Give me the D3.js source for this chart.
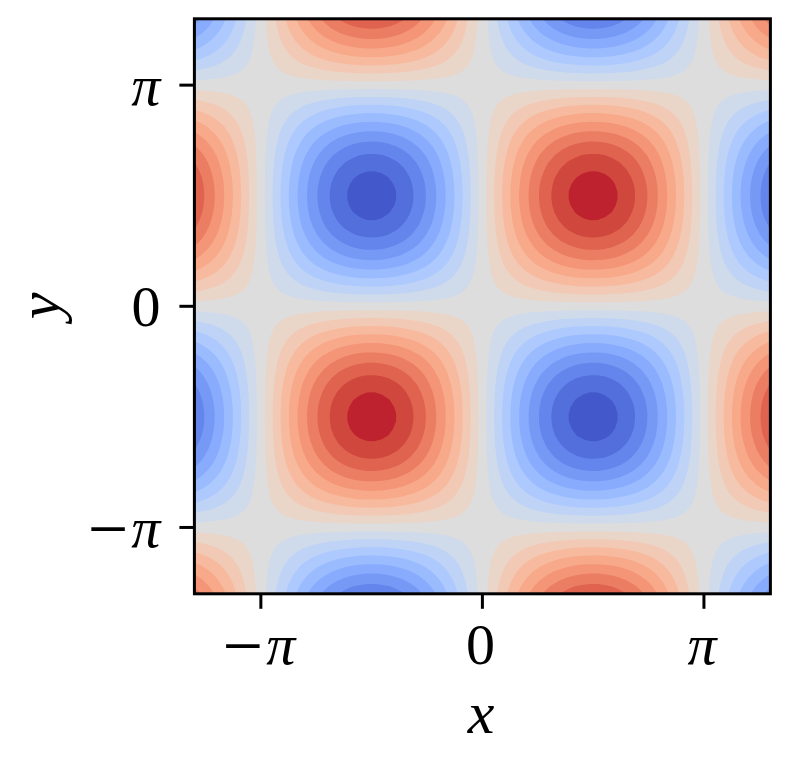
<!DOCTYPE html>
<html><head><meta charset="utf-8">
<script src="https://cdn.jsdelivr.net/npm/d3@7"></script>
<style>html,body{margin:0;padding:0;background:#fff}svg{display:block}</style>
</head><body><svg id="c" width="788" height="761"></svg>
<script>
// Wave profile read along one axis, 81 samples from the left edge to the right edge.
const waveSamples = [0.809,0.745,0.673,0.5941,0.509,0.4187,0.3239,0.2258,0.1253,0.0236,-0.0785,-0.1797,-0.279,-0.3754,-0.4679,-0.5556,-0.6374,-0.7127,-0.7804,-0.8406,-0.891,-0.9326,-0.9646,-0.9864,-0.998,-0.9992,-0.99,-0.9705,-0.9409,-0.9014,-0.8526,-0.7951,-0.729,-0.6554,-0.575,-0.4886,-0.3971,-0.3015,-0.2028,-0.1019,0,0.1019,0.2028,0.3015,0.3971,0.4886,0.575,0.6554,0.729,0.7951,0.8526,0.9014,0.9409,0.9705,0.99,0.9992,0.998,0.9864,0.9646,0.9326,0.891,0.8406,0.7804,0.7127,0.6374,0.5556,0.4679,0.3754,0.279,0.1797,0.0785,-0.0236,-0.1253,-0.2258,-0.3239,-0.4187,-0.509,-0.5941,-0.673,-0.745,-0.809];
const contourLevels = [-0.939,-0.828,-0.718,-0.608,-0.497,-0.386,-0.276,-0.166,-0.056,0.056,0.166,0.276,0.386,0.497,0.608,0.718,0.828,0.939];
const coolwarmStops = ["#3b4cc0","#445acc","#4d68d7","#5775e1","#6282ea","#6c8ef1","#779af7","#82a5fb","#8db0fe","#98b9ff","#a3c2ff","#aec9fd","#b8d0f9","#c2d5f4","#ccd9ee","#d5dbe6","#dddddd","#e5d8d1","#ecd3c5","#f1ccb9","#f5c4ad","#f7bba0","#f7b194","#f7a687","#f49a7b","#f18d6f","#ec7f63","#e57058","#de604d","#d55042","#cb3e38","#c0282f","#b40426"];
const xTicks = [-Math.PI, 0, Math.PI];
const yTicks = [-Math.PI, 0, Math.PI];
const tickLabels = new Map([[-Math.PI, ["\u2212", "\u03c0"]], [0, ["", "0"]], [Math.PI, ["", "\u03c0"]]]);
const xLabel = "x", yLabel = "y";
const extent = 1.3 * Math.PI;

const svg = d3.select("#c");
const x = d3.scaleLinear().domain([-extent, extent]).range([194.4, 770.4]);
const y = d3.scaleLinear().domain([-extent, extent]).range([593.8, 18.8]);
const colour = d3.scaleLinear().domain(coolwarmStops.map((_, i) => i / (coolwarmStops.length - 1))).range(coolwarmStops).interpolate(d3.interpolateRgb);
const binColours = d3.range(contourLevels.length + 1).map(i => colour((i + 0.5) / (contourLevels.length + 1)));

const n = waveSamples.length;
const field = [];
for (let j = 0; j < n; j++) for (let i = 0; i < n; i++) field.push(waveSamples[i] * waveSamples[j]);

const defs = svg.append("defs");
defs.append("clipPath").attr("id", "plot").append("rect")
  .attr("x", x.range()[0]).attr("y", y.range()[1])
  .attr("width", x.range()[1] - x.range()[0]).attr("height", y.range()[0] - y.range()[1]);

const gridToX = d3.scaleLinear().domain([0.5, n - 0.5]).range([-extent, extent]);
const proj = d3.geoTransform({ point(px, py) { this.stream.point(x(gridToX(px)), y(gridToX(py))); } });
const path = d3.geoPath(proj);

const plot = svg.append("g").attr("clip-path", "url(#plot)");
plot.append("rect").attr("x", x.range()[0]).attr("y", y.range()[1])
  .attr("width", x.range()[1] - x.range()[0]).attr("height", y.range()[0] - y.range()[1])
  .attr("fill", binColours[0]);
const contours = d3.contours().size([n, n]).smooth(true).thresholds(contourLevels)(field);
plot.selectAll("path.band").data(contours).join("path").attr("class", "band")
  .attr("d", path).attr("fill", (d, i) => binColours[i + 1]);

const serif = "'Liberation Serif', serif";
function styleAxis(g, setText) {
  g.select(".domain").remove();
  g.selectAll(".tick line").attr("stroke", "#000").attr("stroke-width", 3);
  g.selectAll(".tick text").each(function (d) {
    const t = d3.select(this).text(null).attr("fill", "#000")
      .style("font-family", serif).style("font-size", "58px");
    setText(t);
    const parts = tickLabels.get(d);
    if (parts[0]) t.append("tspan").attr("dy", 6).style("font-size", "72px").text(parts[0]);
    t.append("tspan").attr("dx", parts[0] ? 3 : 0).attr("dy", parts[0] ? -6 : null)
      .style("font-style", parts[1] === "0" ? "normal" : "italic").text(parts[1]);
  });
}
svg.append("g").attr("transform", `translate(0,${y.range()[0]})`)
  .call(d3.axisBottom(x).offset(0).tickValues(xTicks).tickSize(15).tickFormat(() => ""))
  .call(g => styleAxis(g, t => t.attr("x", -2).attr("y", 70).attr("dy", 0).attr("text-anchor", "middle")));
svg.append("g").attr("transform", `translate(${x.range()[0]},0)`)
  .call(d3.axisLeft(y).offset(0).tickValues(yTicks).tickSize(15).tickFormat(() => ""))
  .call(g => styleAxis(g, t => t.attr("x", -34).attr("y", 20).attr("dy", 0).attr("text-anchor", "end")));

svg.append("rect").attr("x", x.range()[0]).attr("y", y.range()[1])
  .attr("width", x.range()[1] - x.range()[0]).attr("height", y.range()[0] - y.range()[1])
  .attr("fill", "none").attr("stroke", "#000").attr("stroke-width", 3);

svg.append("text").attr("x", 481).attr("y", 733).attr("text-anchor", "middle")
  .style("font-family", serif).style("font-style", "italic").style("font-size", "60px").text(xLabel);
svg.append("text").attr("transform", "translate(59,306) rotate(-90)").attr("text-anchor", "middle")
  .style("font-family", serif).style("font-style", "italic").style("font-size", "60px").text(yLabel);
</script></body></html>
